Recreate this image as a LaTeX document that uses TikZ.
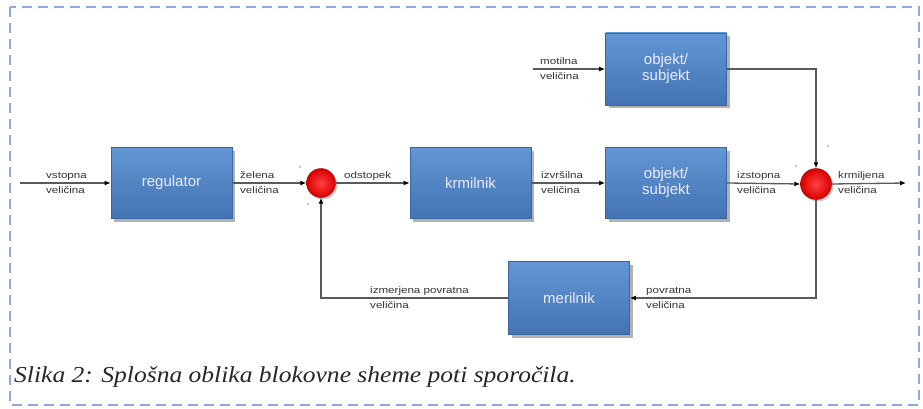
\documentclass[tikz,border=0pt]{standalone}
\usepackage{fontspec}
\setmainfont{Liberation Serif}
\newfontfamily\labelfont{Liberation Sans}
\newfontfamily\sigfont[FakeStretch=1.22]{Liberation Sans}
\newfontfamily\capfont[FakeStretch=1.12]{Liberation Serif}
\usetikzlibrary{shadows,arrows.meta,calc}
\definecolor{frameblue}{HTML}{8EA9DB}
\definecolor{boxtop}{HTML}{6396D4}
\definecolor{boxbot}{HTML}{4373B2}
\definecolor{boxedge}{HTML}{3A66A0}
\definecolor{wire}{HTML}{5A5A5A}
\definecolor{labelgray}{HTML}{333333}
\tikzset{
  block/.style={rectangle, draw=boxedge, line width=0.6pt,
    top color=boxtop, bottom color=boxbot,
    minimum width=121pt, minimum height=71pt, inner sep=0pt,
    align=center, text=white!92!blue, font=\labelfont\fontsize{15}{16}\selectfont,
    drop shadow={shadow xshift=3pt, shadow yshift=-3pt, opacity=0.3, fill=black}},
  summer/.style={circle, minimum size=29pt, inner sep=0pt, draw=red!55!black, line width=0.4pt,
    shading=radial, inner color=red!75!white, outer color=red!85!black,
    drop shadow={shadow xshift=2pt, shadow yshift=-2pt, opacity=0.2, fill=black}},
  wireline/.style={draw=wire, line width=1.3pt, -{Latex[length=6pt,width=5pt,color=black]}},
  sig/.style={font=\sigfont\fontsize{9.5}{10}\selectfont, text=labelgray, inner sep=0pt, align=left},
  sign/.style={font=\labelfont\fontsize{6}{6}\selectfont, text=gray, inner sep=0pt},
}
\begin{document}
\begin{tikzpicture}[x=1pt,y=-1pt]
  \useasboundingbox (0,0) rectangle (923,409);
  % dashed frame around figure and caption
  \draw[frameblue, line width=2.4pt, dash pattern=on 10pt off 6pt] (10,7) rectangle (919,405);

  % blocks
  \node[block] (reg) at (171.5,183) {regulator};
  \node[block] (krm) at (470.5,183) {krmilnik};
  \node[block] (obj) at (666,183) {objekt/\\subjekt};
  \node[block, minimum height=72pt] (dis) at (666,69) {objekt/\\subjekt};
  \node[block, minimum height=73pt] (mer) at (569,298) {merilnik};

  % summing points
  \node[summer] (s1) at (321,183) {};
  \node[summer, minimum size=31pt] (s2) at (816,184) {};

  % free ends
  \coordinate (in) at (20,183);
  \coordinate (out) at (906,183);
  \coordinate (dist) at (533,69);

  % signal paths
  \draw[wireline] (in) -- (reg.west);
  \draw[wireline] (reg.east) -- (s1.west);
  \draw[wireline] (s1.east) -- (krm.west);
  \draw[wireline] (krm.east) -- (obj.west);
  \draw[wireline] (obj.east) -- (s2.west);
  \draw[wireline] (s2.east) -- (out);
  \draw[wireline] (dist) -- (dis.west);
  \draw[wireline] (dis.east) -| (s2.north);
  \draw[wireline] (s2.south) |- (mer.east);
  \draw[wireline] (mer.west) -| (s1.south);

  % signal names
  \node[sig, anchor=base west] (l1a) at (46,178) {vstopna};
  \node[sig, anchor=base west] (l1b) at (46,193) {veličina};
  \node[sig, anchor=base west] (l2a) at (240,178) {želena};
  \node[sig, anchor=base west] (l2b) at (240,193) {veličina};
  \node[sig, anchor=base west] (l3a) at (344,178) {odstopek};
  \node[sig, anchor=base west] (l4a) at (541,178) {izvršilna};
  \node[sig, anchor=base west] (l4b) at (541,193) {veličina};
  \node[sig, anchor=base west] (l5a) at (737,178) {izstopna};
  \node[sig, anchor=base west] (l5b) at (737,193) {veličina};
  \node[sig, anchor=base west] (l6a) at (838,178) {krmiljena};
  \node[sig, anchor=base west] (l6b) at (838,193) {veličina};
  \node[sig, anchor=base west] (l7a) at (540,65) {motilna};
  \node[sig, anchor=base west] (l7b) at (540,80) {veličina};
  \node[sig, anchor=base west] (l8a) at (370,293) {izmerjena povratna};
  \node[sig, anchor=base west] (l8b) at (370,308) {veličina};
  \node[sig, anchor=base west] (l9a) at (646,293) {povratna};
  \node[sig, anchor=base west] (l9b) at (646,308) {veličina};

  % signs at the summing points
  \node[sign] (p1) at (300,168) {+};
  \node[sign] (p2) at (308,205) {+};
  \node[sign] (p3) at (796,167) {+};
  \node[sign] (p4) at (828,147) {+};

  % caption
  \node[anchor=base west, inner sep=0pt, font=\capfont\itshape\fontsize{22.8}{24}\selectfont, text=black!85]
    (cap) at (14,382) {Slika 2: Splošna oblika blokovne sheme poti sporočila.};
\end{tikzpicture}
\end{document}
